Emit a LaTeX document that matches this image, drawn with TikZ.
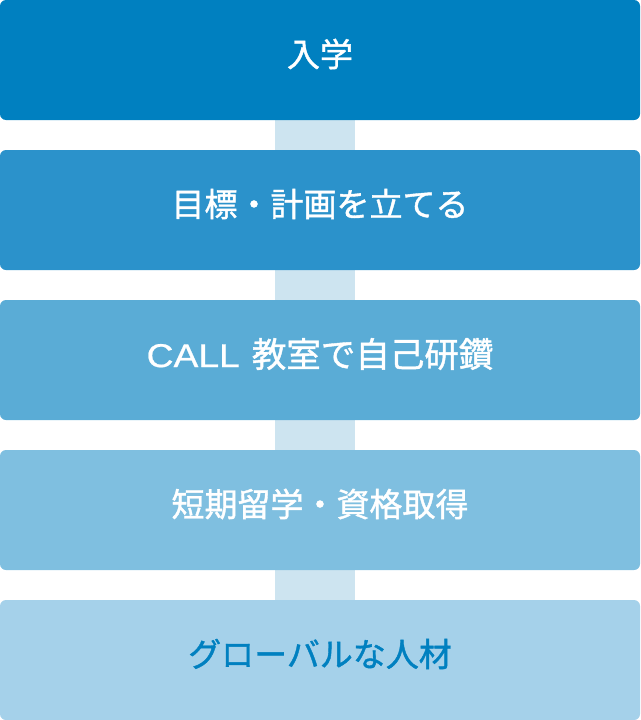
\documentclass[tikz,border=0pt]{standalone}
\usepackage{fontspec}
\usepackage{graphicx}
\setmainfont{Liberation Sans}[FakeBold=0.6]
\newfontfamily\callfont{Liberation Sans}[FakeBold=0.6]
\newfontfamily\cjk{Noto Sans CJK JP}[FakeBold=1.2]
\definecolor{cA}{HTML}{0080C0}
\definecolor{cB}{HTML}{2B92CB}
\definecolor{cC}{HTML}{5AACD6}
\definecolor{cD}{HTML}{7FBFE0}
\definecolor{cE}{HTML}{A5D1EA}
\definecolor{cLink}{HTML}{CDE4F0}
\begin{document}
\begin{tikzpicture}[x=1pt,y=-1pt,
  stage/.style={rounded corners=6pt, minimum width=640pt, minimum height=120pt, inner sep=0pt},
  label/.style={font=\fontsize{33}{36}\selectfont\cjk, text=white, inner sep=0pt},
  link/.style={fill=cLink, draw=none}]
\useasboundingbox (0,0) rectangle (640,720);
\fill[link] (275,110) rectangle (355,610);
\node[stage, fill=cA] (s1) at (320,60) {};
\node[stage, fill=cB] (s2) at (320,210) {};
\node[stage, fill=cC] (s3) at (320,360) {};
\node[stage, fill=cD] (s4) at (320,510) {};
\node[stage, fill=cE] (s5) at (320,660) {};
\node[label] (t1) at ([yshift=6pt]s1.center) {入学};
\node[label] (t2) at ([yshift=6pt]s2.center) {目標・計画を立てる};
\node[label] (t3) at ([yshift=6pt]s3.center) {{\callfont\fontsize{33}{36}\selectfont\scalebox{1.13}[1]{CALL}}\hspace{12pt}{\fontsize{34.5}{36}\selectfont 教室で自己研鑽}};
\node[label] (t4) at ([yshift=6pt]s4.center) {短期留学・資格取得};
\node[label, text=cA] (t5) at ([yshift=6pt]s5.center) {グローバルな人材};
\end{tikzpicture}
\end{document}
